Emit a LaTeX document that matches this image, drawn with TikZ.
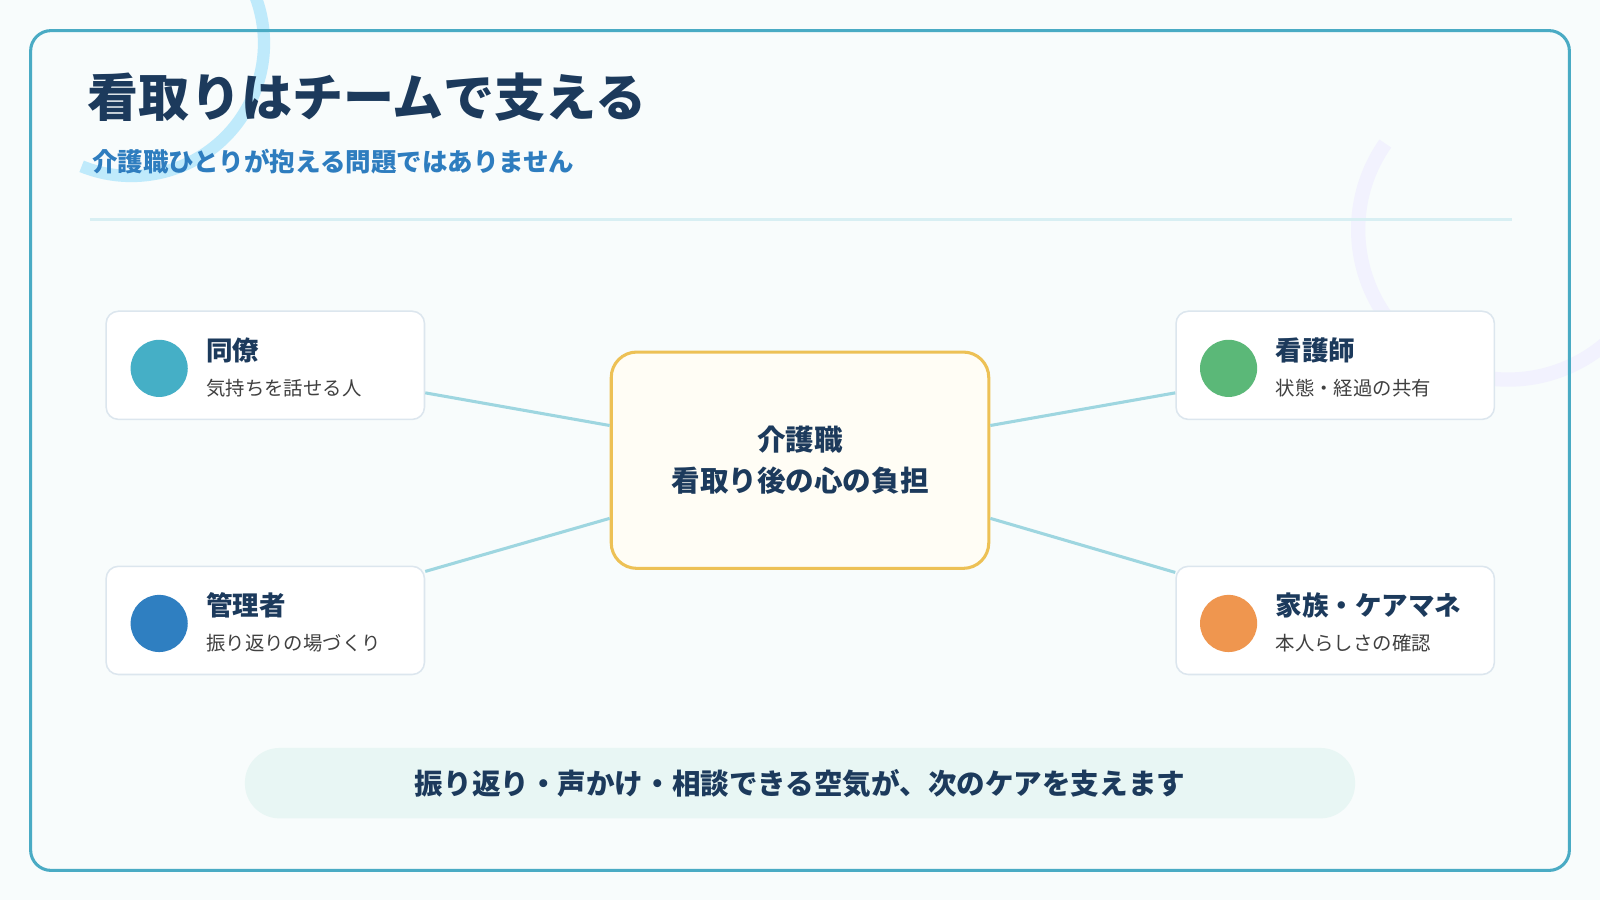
\documentclass[tikz,border=0pt]{standalone}
\usepackage{fontspec}
\setmainfont{Noto Sans CJK JP}
\definecolor{navy}{HTML}{1C3A5C}
\definecolor{subblue}{HTML}{2E7DBF}
\definecolor{frame}{HTML}{4AABC4}
\definecolor{bgc}{HTML}{F8FCFC}
\definecolor{boxb}{HTML}{DCE6EE}
\definecolor{conn}{HTML}{9ED6E0}
\definecolor{cteal}{HTML}{45AFC6}
\definecolor{cblue}{HTML}{2F7FC1}
\definecolor{cgreen}{HTML}{5BB878}
\definecolor{corange}{HTML}{EF964F}
\definecolor{centb}{HTML}{EDC155}
\definecolor{centf}{HTML}{FFFDF5}
\definecolor{pill}{HTML}{E8F6F4}
\begin{document}
\begin{tikzpicture}[x=1pt,y=-1pt,
  card/.style={draw=boxb,line width=1.5pt,fill=white,rounded corners=12pt,minimum width=312pt,minimum height=106pt,inner sep=0pt},
  dot/.style={circle,minimum size=56pt,inner sep=0pt},
  ctitle/.style={anchor=west,font=\fontsize{26}{30}\selectfont\bfseries,text=navy,inner sep=0pt},
  csub/.style={anchor=west,font=\fontsize{19}{22}\selectfont,text=black!75,inner sep=0pt},
  link/.style={draw=conn,line width=3pt}]
\useasboundingbox (0,0) rectangle (1568,882);
\fill[bgc] (0,0) rectangle (1568,882);
\begin{scope}
\clip (0,0) rectangle (1568,882);
\draw[line width=12pt,color=cyan!25!white] (80,163) arc[start angle=112,end angle=-112,radius=130] ;
\draw[line width=14pt,color=black!7!blue!5!white] (1478,225) ++(215:147) arc[start angle=215,end angle=20,radius=147];
\end{scope}
\draw[frame,line width=3pt,rounded corners=20pt,fill=none] (30,30) rectangle (1538,853);
\node[anchor=west,inner sep=0pt,font=\fontsize{50}{56}\selectfont\bfseries,text=navy] (title) at (86,95) {看取りはチームで支える};
\node[anchor=west,inner sep=0pt,font=\fontsize{25}{28}\selectfont\bfseries,text=subblue] (sub) at (90,158) {介護職ひとりが抱える問題ではありません};
\draw[color=conn!40!white,line width=3pt] (88,215) coordinate (l1) -- (1482,215) coordinate (l2);
% center
\node[draw=centb,line width=3pt,fill=centf,rounded corners=25pt,minimum width=370pt,minimum height=212pt,align=center,font=\fontsize{28}{40}\selectfont\bfseries,text=navy] (c) at (784,451) {介護職\\看取り後の心の負担};
% cards
\node[card] (b1) at (260,358) {};
\node[card] (b2) at (260,608) {};
\node[card] (b3) at (1308.5,358) {};
\node[card] (b4) at (1308.5,608) {};
\foreach \b/\x/\y/\col/\t/\s in {b1/156/361/cteal/同僚/気持ちを話せる人, b2/156/611/cblue/管理者/振り返りの場づくり, b3/1204/361/cgreen/看護師/状態・経過の共有, b4/1204/611/corange/家族・ケアマネ/本人らしさの確認}{
  \node[dot,fill=\col] (\b d) at (\x,\y) {};
  \node[ctitle] (\b t) at (\x+46,\y-18) {\t};
  \node[csub] (\b s) at (\x+46,\y+19) {\s};
}
\begin{scope}[on background layer/.style={}]
\draw[link] (b1.east|-0,385) -- (c.west|-0,417);
\draw[link] (b2.east|-0,560) -- (c.west|-0,508);
\draw[link] (c.east|-0,417) -- (b3.west|-0,385);
\draw[link] (c.east|-0,508) -- (b4.west|-0,561);
\end{scope}
\node[fill=pill,rounded corners=34pt,minimum width=1088pt,minimum height=69pt,font=\fontsize{28}{32}\selectfont\bfseries,text=navy] (p) at (784,767.5) {振り返り・声かけ・相談できる空気が、次のケアを支えます};
\end{tikzpicture}
\end{document}
